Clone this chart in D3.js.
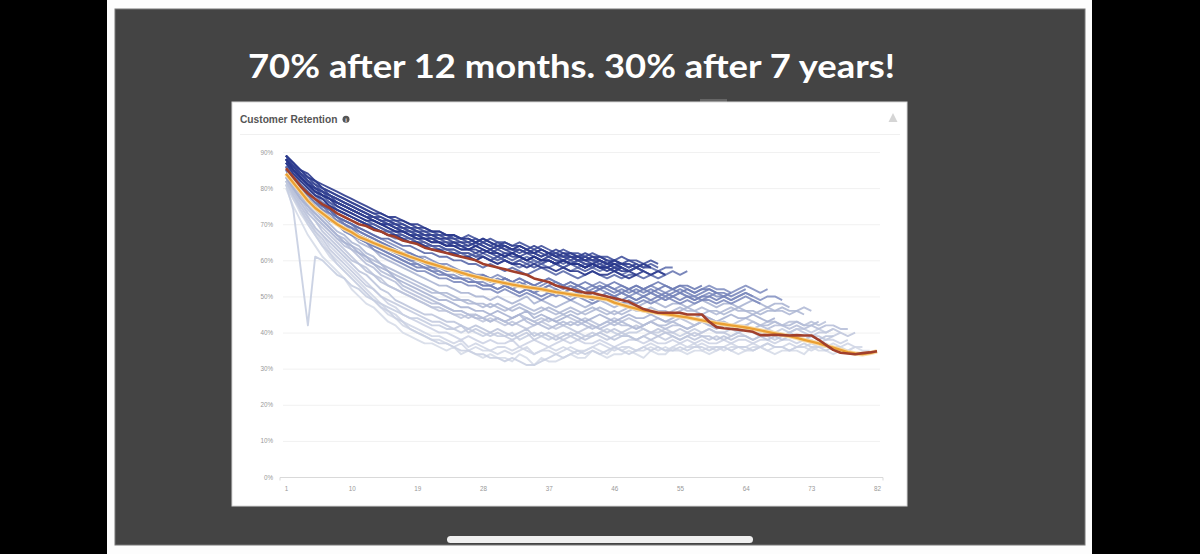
<!DOCTYPE html>
<html>
<head>
<meta charset="utf-8">
<script src="https://d3js.org/d3.v7.min.js"></script>
<style>
html,body{margin:0;padding:0;background:#000;}
svg{display:block;}
</style>
</head>
<body>
<svg id="chart" width="1200" height="554"></svg>
<script>
// ---------------- DATA ----------------
const slideTitle = "70% after 12 months. 30% after 7 years!";
const panelTitle = "Customer Retention";
const yTickValues = [0, 10, 20, 30, 40, 50, 60, 70, 80, 90];
const yTickLabels = ["0%", "10%", "20%", "30%", "40%", "50%", "60%", "70%", "80%", "90%"];
const xTickLabels = [1, 10, 19, 28, 37, 46, 55, 64, 73, 82];
const monthDomain = [1, 82];

// cohort retention (%) by month since signup, oldest cohort first
const v1 = [80,75,71,67,64,61,59,57,55,52,50,48,47,45,43,42,40,39,38,37,37,36,35,36,34,35,34,33,34,33,33,32,34,33,31,33,32,32,33,34,33,33,35,34,33,34,34,35,34,33,35,34,34,36,35,34,35,35,34,35,36,35,34,35,35,36,35,34,35,35,35,34,36,35,35,34,35,35,36,35,35];
const v2 = [81,77,73,70,67,64,61,59,57,55,53,51,49,47,45,44,42,41,40,39,38,38,37,36,37,35,36,35,35,34,35,34,35,36,34,35,35,34,35,36,35,35,36,35,34,36,35,36,35,35,36,35,36,35,35,36,37,35,36,36,35,36,36,35,36,36,35,36,36,35,36,36,35,36,36,37,36,35,36,36];
const v3 = [82,78,74,71,68,65,62,60,58,56,54,52,50,48,46,45,43,42,41,40,39,39,38,37,38,36,37,36,35,36,36,35,36,35,34,35,36,35,36,35,34,35,36,37,36,35,36,36,35,36,37,36,35,36,37,36,36,37,36,35,36,37,36,36,37,36,37,36,36,37,36,36,37,36,37,36,36,37,36];
const v4 = [82,79,75,72,69,67,64,62,60,58,56,54,52,50,48,47,45,44,43,42,41,40,40,39,38,39,38,37,38,37,37,38,36,37,38,37,36,37,38,37,38,37,37,38,37,36,37,38,38,37,38,37,37,38,37,38,37,38,37,37,38,37,38,38,37,38,38,37,38,38,37,38,38,37,38,38,37,38];
const v5 = [81,77,74,70,67,64,62,59,57,55,53,51,49,47,46,44,43,41,40,39,38,37,37,36,35,35,34,34,33,33,32,33,32,31,31,32,33,34,33,34,35,34,35,34,35,36,35,34,35,36,35,36,35,35,36,35,36,36,35,36,36,35,36,36,35,36,37,36,36,35,36,37,36,36,35,36,36];
const s1 = [81,74,58,42,61,60,58,56,55,53,52,50,49,48,47,46,45,44,44,43,42,42,41,41,40,41,40,39,40,39,39,40,38,39,40,39,38,39,40,39,40,39,39,40,41,40,39,40,40,41,40,40,41,40,39,40,41,40,41,40,40,41,40,41,41,40,41,40,41,40,41,41,40,41,40,41];
const l10 = [82,78,74,71,68,66,63,61,59,57,55,53,52,50,49,48,47,46,45,44,43,43,42,41,42,40,41,40,39,40,39,38,39,40,38,39,40,39,38,39,38,39,40,39,38,39,40,39,38,39,40,39,38,39,38,39,40,39,38,39,38,39,40,39,38,39,39,38,39,40,39,38,39,39,38,39,40];
const l1 = [82,79,76,73,71,69,67,65,63,61,59,58,56,55,53,52,51,50,49,48,47,46,46,45,44,45,44,43,44,43,42,43,42,41,42,43,42,41,42,41,40,41,42,41,40,41,40,41,42,41,40,41,40,40,41,40,39,40,41,40,40,39,40,41,40,39,40,40,39,40,41,40,39,40,40,41,40,39,40];
const l3 = [82,78,75,72,69,67,65,63,61,59,57,56,54,52,51,49,48,47,46,45,45,44,43,43,42,41,42,41,40,41,40,39,40,41,39,40,39,38,39,40,39,38,39,40,39,38,39,39,38,39,38,39,40,39,38,39,38,39,39,38,39,38,39,39,38,39,38,39,38,39,39,38,39,38,39,39];
const l8 = [83,79,76,73,71,68,66,64,62,60,59,57,56,54,53,52,51,50,49,48,47,47,46,45,45,44,45,44,43,44,43,44,45,44,43,44,43,44,45,44,43,44,43,42,43,44,43,44,43,42,43,44,43,43,44,43,42,43,44,43,43,42,43,44,43,42,43,43,42,43,43,42,43,42,43];
const l2 = [83,80,77,75,72,70,68,66,64,63,61,59,58,56,55,54,52,51,50,49,48,48,47,46,46,45,45,44,45,44,43,44,45,43,42,43,44,43,42,43,42,43,42,41,42,43,42,42,41,42,43,42,41,42,42,41,42,43,42,41,42,41,42,42,41,42,41,42,42,41,42,41,42,41,42,42,41,41];
const l4 = [83,80,77,74,72,70,68,66,65,63,62,60,59,57,56,55,53,52,51,50,49,48,47,46,46,45,44,44,43,44,43,42,43,44,43,42,41,42,43,42,43,42,41,42,43,42,43,42,41,42,43,42,42,43,42,41,42,43,42,42,43,42,41,42,43,42,42,43,42,42,43,42,42,43];
const l9 = [84,81,78,75,73,71,69,67,66,64,63,61,60,59,57,56,55,54,53,52,51,51,50,49,49,48,48,47,48,47,46,47,48,47,46,47,46,45,46,47,46,45,46,47,46,45,46,47,46,46,47,46,45,46,47,46,46,47,46,45,46,47,46,46,45,46,47,46,46,45,46,47,46];
const l5 = [84,81,78,76,74,72,70,68,67,65,64,62,61,59,58,57,56,55,54,53,52,51,51,50,49,49,48,48,47,48,47,46,47,46,45,46,47,46,45,46,45,46,47,46,45,46,45,46,47,46,45,46,46,45,46,47,46,45,46,46,45,46,47,46,46,45,46,46,47,46,46,45];
const l6 = [84,81,79,77,75,73,71,70,68,67,65,64,63,61,60,59,58,57,56,55,54,53,53,52,51,51,50,50,49,50,49,48,49,50,48,49,48,47,48,49,48,47,48,49,48,47,48,48,47,48,49,48,47,48,48,47,48,49,48,47,48,48,47,48,49,48,47,48,48,47];
const l7 = [83,80,77,75,73,71,69,67,65,64,62,61,59,58,57,55,54,53,52,51,50,49,49,48,47,47,46,46,45,46,45,44,45,46,44,45,44,43,44,45,44,43,44,45,44,43,44,45,44,44,45,44,43,44,45,44,44,45,44,43,44,45,44,44,45,44,43,44];
const m1 = [86,83,80,78,76,74,72,71,70,68,67,66,65,64,63,62,61,60,59,58,58,57,56,56,55,55,54,54,53,54,53,52,53,52,51,52,53,52,51,52,51,50,51,52,51,50,51,50,51,50,51,50,49,50,51,50,49,50,51,50,50,49,50,51,50,49,50,50,49];
const m2 = [87,84,81,79,77,75,74,72,71,70,69,68,67,66,65,64,63,62,61,61,60,59,59,58,57,57,56,56,55,56,55,54,55,54,53,54,55,54,53,54,53,52,53,54,53,52,53,52,53,52,53,52,51,52,53,52,51,52,53,52,52,51,52,53,52,51,52];
const m3 = [85,82,79,77,75,73,71,70,68,67,66,65,63,62,61,60,59,58,57,57,56,55,55,54,54,53,53,52,52,51,52,51,50,51,50,49,50,51,50,49,50,49,48,49,50,49,48,49,48,49,48,49,50,49,48,49,48,49,49,48,49,48,49,50,49,48];
const m8 = [85,82,79,77,75,73,71,70,69,67,66,65,64,63,62,61,60,59,59,58,57,57,56,55,55,54,54,53,53,52,53,52,51,52,51,52,51,50,51,52,51,50,51,50,49,50,51,50,49,50,51,50,49,50,51,50,50,49,50,51,50,49,50,51,50];
const m4 = [86,83,80,78,76,74,73,71,70,69,67,66,65,64,63,62,61,60,60,59,58,58,57,57,56,56,55,55,54,55,54,53,54,53,52,53,54,53,52,53,52,51,52,53,52,51,52,51,52,51,52,51,50,51,52,51,50,51,52,51,51,50,51,52];
const m5 = [85,82,80,77,75,73,72,70,69,68,66,65,64,63,62,61,60,59,58,58,57,56,56,55,55,54,54,53,53,52,53,52,51,52,51,50,51,52,51,50,51,50,49,50,51,50,49,50,49,50,49,50,51,50,49,50,49,50,50,49,50,51];
const m6 = [86,84,81,79,77,75,74,72,71,70,68,67,66,65,64,63,62,62,61,60,59,59,58,57,57,56,56,55,55,54,55,54,53,54,53,52,53,54,53,52,53,52,51,52,53,52,51,52,51,52,51,52,53,52,51,52,51,52,52,51];
const m7 = [86,83,80,78,76,75,73,72,70,69,68,67,66,65,64,63,62,61,61,60,59,58,58,57,57,56,55,56,55,54,55,54,55,54,53,54,55,54,53,54,53,54,53,52,53,54,53,52,53,52,53,54,53,52,53,53,52,53];
const k1 = [87,84,82,80,78,76,75,74,73,72,71,70,69,68,67,66,66,65,65,64,63,63,62,62,61,61,60,61,60,59,60,59,58,59,60,59,58,59,58,57,58,59,58,57,58,57,56,57,58,57,56,57,56,57,56,57];
const k2 = [88,85,83,81,79,77,76,74,73,72,71,70,69,68,68,67,66,66,65,64,64,63,63,62,62,61,62,61,60,61,60,59,60,61,60,59,60,59,58,59,60,59,58,59,58,59,58,57,58,59,58,57,58,58];
const k3 = [86,83,81,79,77,75,74,72,71,70,69,68,67,66,66,65,64,64,63,62,62,61,61,60,60,59,59,58,59,58,57,58,57,56,57,58,57,56,57,56,55,56,57,56,55,56,55,56,56,55,56,55,56];
const k4 = [87,85,82,80,78,77,75,74,73,72,71,70,70,69,68,67,67,66,65,65,64,64,63,63,62,62,61,62,61,60,61,60,61,60,59,60,61,60,59,60,59,58,59,60,59,58,59,58,59,58,59,58];
const k5 = [88,85,83,81,79,78,76,75,74,73,72,71,70,69,68,68,67,66,66,65,64,64,63,63,62,62,61,61,60,61,60,59,60,59,58,59,60,59,58,59,58,57,58,59,58,57,58,57,58,57];
const dk1 = [89,87,85,83,82,80,79,78,77,76,75,74,73,72,71,71,70,69,69,68,68,67,67,66,66,67,66,65,66,65,65,64,65,64,63,64,63,62,63,62,62,61,62,61,61,60,61,60,60,59,60,59];
const dk2 = [88,86,84,82,80,79,78,77,76,75,74,73,72,71,70,69,69,68,67,67,66,66,65,65,64,64,65,64,63,64,63,63,62,63,62,61,62,61,61,60,61,60,60,59,60,59,59,58,59,58,58];
const dk3 = [89,86,84,82,81,79,78,76,75,74,73,72,71,70,70,69,68,68,67,66,66,65,65,64,64,63,64,63,62,63,62,62,61,62,61,60,61,60,60,59,60,59,59,58,59,58,58,57,58,57];
const dk4 = [88,85,83,81,79,78,77,76,75,74,73,72,72,71,70,70,69,68,68,67,67,66,66,67,66,65,66,65,64,65,64,63,64,63,62,63,62,62,61,62,61,61,60,61,60,60,59,60,59];
const dk5 = [87,85,83,81,80,79,77,76,75,74,73,72,71,70,69,68,68,67,66,66,65,65,64,64,63,63,62,63,62,61,62,61,61,60,61,60,60,59,60,59,59,58,59,58,58,57,58,57];
const dk6 = [89,87,84,83,81,80,78,77,76,75,74,73,72,72,71,70,70,69,68,68,67,67,66,66,65,65,64,65,64,63,64,63,63,62,63,62,61,62,61,61,60,61,60,60,59,60,59];
const dk7 = [88,86,84,82,80,79,78,77,76,75,74,73,72,71,71,70,69,69,68,67,67,66,66,65,65,64,65,64,63,64,63,62,63,62,62,61,62,61,60,61,60,60,59,60,59,59];
const dk8 = [89,87,85,83,82,80,79,78,77,76,75,74,73,73,72,71,71,70,69,69,68,68,67,67,66,66,65,66,65,64,65,64,64,63,64,63,62,63,62,62,61,62,61,61,60];
const dk9 = [88,86,83,81,80,78,77,76,75,74,73,72,71,70,70,69,68,67,67,66,66,65,64,65,64,63,63,62,63,62,61,62,61,60,61,60,60,59,60,59,59,58,59,58,57,58,57,57,56,57,56,57,56];
const dk10 = [89,87,85,84,82,81,80,79,78,77,76,75,74,73,72,72,71,70,70,69,68,68,67,67,66,66,65,66,65,64,64,63,64,63,62,63,62,61,62,61,61,60,61,60,59,60,59,59,58,59,58];
const dk11 = [87,84,82,80,78,77,75,74,73,72,71,70,69,68,67,67,66,65,65,64,63,63,62,62,61,61,60,61,60,59,60,59,59,58,59,58,58,57,58,57,57,56,57,56,56,57,56,55,56];
const dk12 = [88,85,83,81,79,78,77,75,74,73,72,71,71,70,69,68,68,67,66,66,65,65,64,64,63,63,64,63,62,62,61,62,61,60,61,60,60,59,60,59,59,58,59,58,58,59,58];

const cohortSeries = [v1, v2, v3, v4, v5, s1, l10, l1, l3, l8, l2, l4, l9, l5, l6, l7,
  m1, m2, m3, m8, m4, m5, m6, m7, k1, k2, k3, k4, k5,
  dk1, dk2, dk3, dk4, dk5, dk6, dk7, dk8, dk9, dk10, dk11, dk12];

// highlighted series
const redSeries = [85.5,83,80.5,78.5,77,75.5,74.5,73,72,71,70,69.5,68.5,68,67,66.5,65.5,65,64.5,63.5,63,62.5,62,61.5,61,60.5,60,59,58.5,58,57.5,57,56.5,56,55,54.5,54,53,52.5,52,51.5,51,51,50.5,50,49.5,49,48.5,47.5,46.5,46,45.5,45.5,45.5,45.5,45,45,45,43,41.5,41.2,41,40.8,40.5,40.2,39.3,39.3,39.4,39.3,39.2,39.3,39.2,39.2,38,36.6,35.2,34.4,34.2,34,34.3,34.5,34.8];
const orangeSeries = [84,81.5,79,76.5,74.5,73,71.5,70,68.8,67.8,66.5,65.7,64.8,64,63.2,62.5,61.8,61,60.3,59.6,59,58.4,57.8,57.2,56.6,56,55.5,55,54.5,54.1,53.7,53.3,52.9,52.6,52.3,52,51.6,51.2,50.9,50.6,50.3,50,49.8,49.5,49.2,48.3,47.7,47.1,46.6,46.1,45.8,45.4,45.1,44.8,44.5,44.2,43.8,43.4,43,42.6,42.3,42,41.7,41.4,41,40.6,40.2,39.8,39.4,39,38.5,38,37.5,37,36.4,35.8,35.2,34.6,34.2,34,34.3,34.8];

// ---------------- DRAWING ----------------
const svg = d3.select("#chart");

// letterbox + screen + slide
svg.append("rect").attr("x", 0).attr("y", 0).attr("width", 1200).attr("height", 554).attr("fill", "#000");
svg.append("rect").attr("x", 107).attr("y", 0).attr("width", 985).attr("height", 554).attr("fill", "#fdfdfd");
svg.append("rect").attr("x", 115).attr("y", 9).attr("width", 970).attr("height", 536)
  .attr("fill", "#444444").attr("stroke", "#777").attr("stroke-width", 1);

// slide title
svg.append("text")
  .attr("x", 248).attr("y", 78)
  .attr("fill", "#ffffff")
  .attr("font-family", "Lato, 'Open Sans', sans-serif")
  .attr("font-weight", 700)
  .attr("font-size", 32.5)
  .attr("textLength", 647)
  .attr("lengthAdjust", "spacingAndGlyphs")
  .text(slideTitle);

// small tab mark above panel
svg.append("rect").attr("x", 700).attr("y", 99).attr("width", 27).attr("height", 3).attr("fill", "#666");

// chart panel
svg.append("rect").attr("x", 232).attr("y", 102).attr("width", 675).attr("height", 404)
  .attr("fill", "#ffffff").attr("stroke", "#d8d8d8");

svg.append("text").attr("x", 240).attr("y", 122.5)
  .attr("font-family", "'Liberation Sans', Arial, sans-serif")
  .attr("font-weight", "bold").attr("font-size", 10.2).attr("fill", "#555")
  .text(panelTitle);
svg.append("circle").attr("cx", 346).attr("cy", 119.3).attr("r", 3.5).attr("fill", "#555");
svg.append("text").attr("x", 346).attr("y", 121.6).attr("text-anchor", "middle")
  .attr("font-family", "'Liberation Sans', Arial, sans-serif").attr("font-weight", "bold")
  .attr("font-size", 5.5).attr("fill", "#fff").text("i");
// warning icon
svg.append("path").attr("d", "M893,113 L897.5,122 L888.5,122 Z").attr("fill", "#d5d5d5");
svg.append("line").attr("x1", 240).attr("x2", 900).attr("y1", 134.5).attr("y2", 134.5)
  .attr("stroke", "#f0f0f0");

// home indicator bar
svg.append("rect").attr("x", 447).attr("y", 536).attr("width", 306).attr("height", 7).attr("rx", 3.5)
  .attr("fill", "#f0f0f0");

// scales
const x = d3.scaleLinear().domain(monthDomain).range([286, 877]);
const y = d3.scaleLinear().domain([0, 90]).range([477, 152]);

// gridlines
svg.append("g").selectAll("line").data(yTickValues.slice(1)).join("line")
  .attr("x1", 283).attr("x2", 880)
  .attr("y1", d => y(d) + 0.5).attr("y2", d => y(d) + 0.5)
  .attr("stroke", "#f1f1f1");

// y axis
const yAxis = d3.axisLeft(y).tickValues(yTickValues)
  .tickFormat((d, i) => yTickLabels[i]).tickSize(0).tickPadding(0);
const gy = svg.append("g").attr("transform", "translate(273,0)").call(yAxis);
gy.select(".domain").remove();
gy.selectAll("text").attr("font-family", "'Liberation Sans', Arial, sans-serif")
  .attr("font-size", 6.3).attr("fill", "#999");

// x axis
const xAxis = d3.axisBottom(x).tickValues(xTickLabels).tickSize(0).tickPadding(9);
const gx = svg.append("g").attr("transform", "translate(0,477.5)").call(xAxis);
gx.select(".domain").attr("d", "M280,3V0H883V3").attr("stroke", "#d9d9d9").attr("fill", "none");
gx.selectAll("text").attr("font-family", "'Liberation Sans', Arial, sans-serif")
  .attr("font-size", 6.3).attr("fill", "#999");

// lines
const line = d3.line().x((d, i) => x(i + 1)).y(d => y(d));
const n = cohortSeries.length - 1;
const color = d3.scaleLinear()
  .domain([0, n * 0.15, n * 0.375, n * 0.4, n * 0.6, n * 0.72, n])
  .range(["#d6dbe8", "#c4cbdf", "#a8b2d1", "#8693c3", "#6a79b3", "#45549d", "#27358a"]);

svg.append("g").selectAll("path").data(cohortSeries).join("path")
  .attr("d", line)
  .attr("fill", "none")
  .attr("stroke", (d, i) => color(i))
  .attr("stroke-width", 1.9)
  .attr("stroke-opacity", 0.9)
  .attr("stroke-linejoin", "round");

svg.append("path").datum(orangeSeries).attr("d", line)
  .attr("fill", "none").attr("stroke", "#f7dcab").attr("stroke-width", 4.4).attr("stroke-linejoin", "round");
svg.append("path").datum(orangeSeries).attr("d", line)
  .attr("fill", "none").attr("stroke", "#eba033").attr("stroke-width", 2.3).attr("stroke-linejoin", "round");
svg.append("path").datum(redSeries).attr("d", line)
  .attr("fill", "none").attr("stroke", "#a13f2b").attr("stroke-width", 2.6).attr("stroke-linejoin", "round");
</script>
</body>
</html>
